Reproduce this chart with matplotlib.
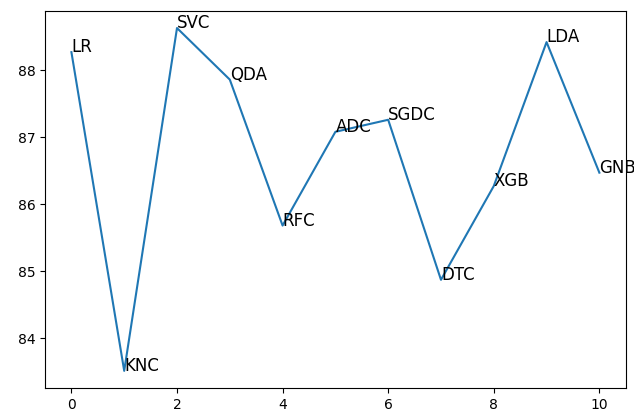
import matplotlib
matplotlib.use("Agg")
import matplotlib.pyplot as plt

models = ['LR', 'KNC', 'SVC', 'QDA', 'RFC', 'ADC', 'SGDC', 'DTC', 'XGB', 'LDA', 'GNB']
accuracy = [88.27, 83.51, 88.63, 87.86, 85.68, 87.08, 87.26, 84.87, 86.27, 88.42, 86.47]
idx = list(range(len(models)))

fig = plt.figure(figsize=(6.34, 4.19), dpi=100)
ax = fig.add_axes([0.071, 0.074, 0.916, 0.9])
ax.plot(idx, accuracy)
for i, name in enumerate(models):
    ax.text(idx[i], accuracy[i], name, fontsize=12)

fig.savefig("out.png", dpi=100)
